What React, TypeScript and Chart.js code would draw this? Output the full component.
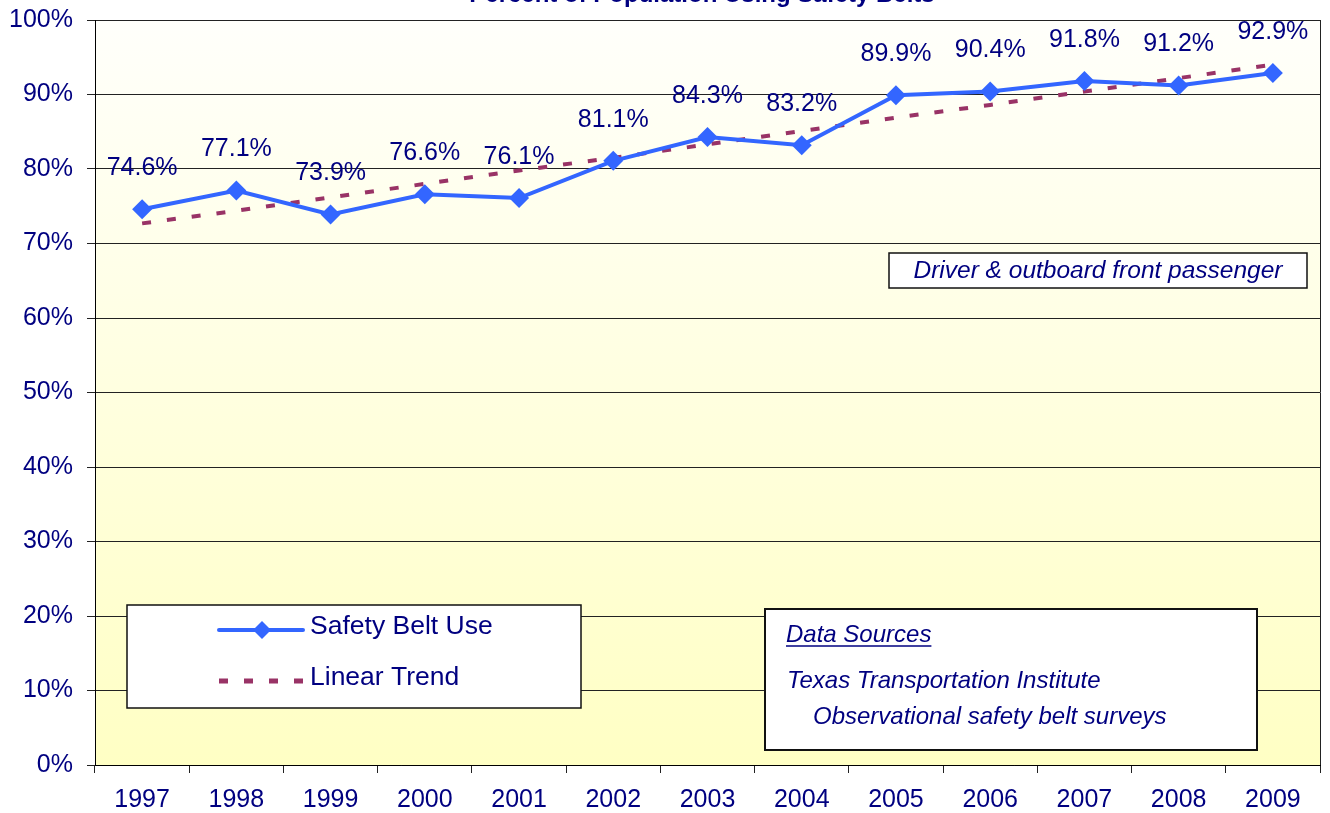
import React, { useEffect, useRef } from "react";
import { Chart, registerables } from "chart.js";

Chart.register(...registerables);

const years = ["1997", "1998", "1999", "2000", "2001", "2002", "2003", "2004", "2005", "2006", "2007", "2008", "2009"];
const beltUse = [74.6, 77.1, 73.9, 76.6, 76.1, 81.1, 84.3, 83.2, 89.9, 90.4, 91.8, 91.2, 92.9];
const linearTrend = [72.7, 74.4, 76.2, 78.0, 79.8, 81.5, 83.3, 85.1, 86.9, 88.6, 90.4, 92.2, 94.0];
const titleText = "Percent of Population Using Safety Belts";
const legendLabels = ["Safety Belt Use", "Linear Trend"];
const noteText = "Driver & outboard front passenger";
const sourceLines = ["Data Sources", "Texas Transportation Institute", "Observational safety belt surveys"];

const FONT = "'Liberation Sans', Arial, Helvetica, sans-serif";
const NAVY = "#000080";
const BLUE = "#3366FF";
const MAROON = "#993366";

const decorPlugin = {
  id: "decor",
  beforeDraw(chart: any) {
    const { ctx, chartArea } = chart;
    ctx.save();
    ctx.fillStyle = "#ffffff";
    ctx.fillRect(0, 0, chart.width, chart.height);
    const g = ctx.createLinearGradient(0, chartArea.top, 0, chartArea.bottom);
    g.addColorStop(0, "#fffffb");
    g.addColorStop(1, "#ffffc4");
    ctx.fillStyle = g;
    ctx.fillRect(chartArea.left, chartArea.top, chartArea.right - chartArea.left, chartArea.bottom - chartArea.top);
    ctx.restore();
  },
  afterDraw(chart: any) {
    const { ctx, chartArea } = chart;
    ctx.save();
    // right border of plot area
    ctx.strokeStyle = "#222";
    ctx.lineWidth = 1;
    ctx.beginPath();
    ctx.moveTo(Math.round(chartArea.right) + 0.5, chartArea.top);
    ctx.lineTo(Math.round(chartArea.right) + 0.5, chartArea.bottom);
    ctx.stroke();

    // title (mostly clipped at top)
    ctx.fillStyle = NAVY;
    ctx.font = `bold 24px ${FONT}`;
    ctx.textAlign = "center";
    ctx.textBaseline = "alphabetic";
    ctx.fillText(titleText, 702, 2);

    // data labels
    const meta = chart.getDatasetMeta(1);
    ctx.font = `25px ${FONT}`;
    ctx.textBaseline = "middle";
    meta.data.forEach((pt: any, i: number) => {
      ctx.fillText(beltUse[i].toFixed(1) + "%", pt.x, pt.y - 41);
    });

    // legend box
    ctx.fillStyle = "#ffffff";
    ctx.fillRect(127, 605, 454, 103);
    ctx.strokeStyle = "#111";
    ctx.lineWidth = 1.5;
    ctx.strokeRect(127, 605, 454, 103);
    ctx.strokeStyle = BLUE;
    ctx.lineWidth = 4;
    ctx.lineCap = "round";
    ctx.beginPath();
    ctx.moveTo(219, 630);
    ctx.lineTo(303, 630);
    ctx.stroke();
    ctx.lineCap = "butt";
    ctx.fillStyle = BLUE;
    ctx.beginPath();
    ctx.moveTo(262 - 9, 630);
    ctx.lineTo(262, 630 - 9);
    ctx.lineTo(262 + 9, 630);
    ctx.lineTo(262, 630 + 9);
    ctx.closePath();
    ctx.fill();
    ctx.strokeStyle = MAROON;
    ctx.lineWidth = 5;
    ctx.setLineDash([9, 16]);
    ctx.beginPath();
    ctx.moveTo(219, 681);
    ctx.lineTo(304, 681);
    ctx.stroke();
    ctx.setLineDash([]);
    ctx.fillStyle = NAVY;
    ctx.font = `26.5px ${FONT}`;
    ctx.textAlign = "left";
    ctx.textBaseline = "middle";
    ctx.fillText(legendLabels[0], 310, 627);
    ctx.fillText(legendLabels[1], 310, 678);

    // note box
    ctx.fillStyle = "#ffffff";
    ctx.fillRect(889, 253, 418, 35);
    ctx.strokeStyle = "#111";
    ctx.lineWidth = 1.5;
    ctx.strokeRect(889, 253, 418, 35);
    ctx.fillStyle = NAVY;
    ctx.font = `italic 24.5px ${FONT}`;
    ctx.textAlign = "center";
    ctx.fillText(noteText, 1098, 271);

    // sources box
    ctx.fillStyle = "#ffffff";
    ctx.fillRect(765, 609, 492, 141);
    ctx.strokeStyle = "#111";
    ctx.lineWidth = 2;
    ctx.strokeRect(765, 609, 492, 141);
    ctx.fillStyle = NAVY;
    ctx.font = `italic 24px ${FONT}`;
    ctx.textAlign = "left";
    ctx.textBaseline = "alphabetic";
    ctx.fillText(sourceLines[0], 786, 642);
    const w = ctx.measureText(sourceLines[0]).width;
    ctx.strokeStyle = NAVY;
    ctx.lineWidth = 1.5;
    ctx.beginPath();
    ctx.moveTo(786, 646);
    ctx.lineTo(786 + w, 646);
    ctx.stroke();
    ctx.fillText(sourceLines[1], 787, 688);
    ctx.fillText(sourceLines[2], 813, 724);
    ctx.restore();
  },
};

export default function App() {
  const ref = useRef<HTMLCanvasElement | null>(null);
  useEffect(() => {
    if (!ref.current) return;
    const chart = new Chart(ref.current, {
      type: "line",
      data: {
        labels: years,
        datasets: [
          {
            label: legendLabels[1],
            data: linearTrend,
            borderColor: MAROON,
            borderWidth: 4,
            borderDash: [9, 16],
            pointRadius: 0,
            fill: false,
            order: 2,
          },
          {
            label: legendLabels[0],
            data: beltUse,
            borderColor: BLUE,
            backgroundColor: BLUE,
            borderWidth: 4,
            pointStyle: "rectRot",
            pointRadius: 10,
            pointBorderWidth: 0,
            pointBackgroundColor: BLUE,
            fill: false,
            order: 1,
          },
        ],
      },
      options: {
        responsive: false,
        animation: false,
        layout: { padding: { top: 20, right: 8, left: 0, bottom: 0 } },
        plugins: {
          legend: { display: false },
          title: { display: false },
          tooltip: { enabled: false },
        },
        scales: {
          x: {
            type: "category",
            offset: true,
            afterFit: (s: any) => {
              s.height = 48;
              s.paddingLeft = 0;
              s.paddingRight = 0;
            },
            grid: {
              offset: true,
              drawOnChartArea: false,
              drawTicks: true,
              tickLength: 8,
              tickColor: "#222",
              color: "#222",
            },
            border: { display: true, color: "#000", width: 1 },
            ticks: {
              color: NAVY,
              font: { family: FONT, size: 25 },
              padding: 12,
              maxRotation: 0,
              autoSkip: false,
            },
          },
          y: {
            min: 0,
            max: 100,
            afterFit: (s: any) => {
              s.width = 95;
              s.paddingTop = 0;
              s.paddingBottom = 0;
            },
            grid: {
              color: "#222",
              lineWidth: 1,
              drawTicks: true,
              tickLength: 8,
              tickColor: "#222",
            },
            border: { display: true, color: "#000", width: 1 },
            ticks: {
              stepSize: 10,
              color: NAVY,
              font: { family: FONT, size: 25 },
              padding: 14,
              callback: (v: any) => v + "%",
            },
          },
        },
      },
      plugins: [decorPlugin],
    });
    return () => chart.destroy();
  }, []);
  return (
    <div style={{ position: "fixed", left: 0, top: 0, width: 1330, height: 813 }}>
      <canvas ref={ref} width={1330} height={813} style={{ display: "block" }} />
    </div>
  );
}
